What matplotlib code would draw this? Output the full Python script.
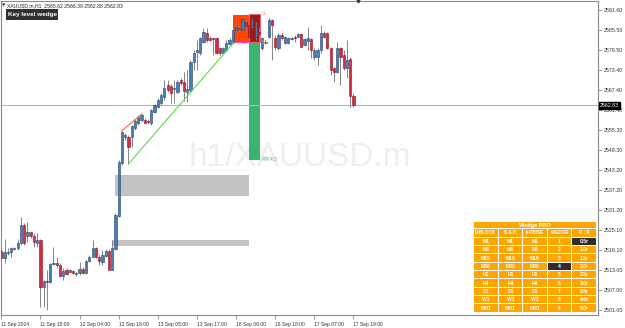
import matplotlib
matplotlib.use("Agg")
import matplotlib.pyplot as plt
from matplotlib.patches import Rectangle
import matplotlib.transforms as mtransforms

# ---------------- data ----------------
opens = [
    2518.9, 2516.6, 2518.3, 2518.6, 2519.3, 2519.6, 2521.1, 2526.7, 2523.2, 2524.5,
    2523.4, 2521.3, 2522.1, 2508.0, 2509.8, 2509.6, 2514.9, 2515.1, 2514.6, 2511.3,
    2513.1, 2512.6, 2512.9, 2511.9, 2512.3, 2513.3, 2512.1, 2515.9, 2517.1, 2519.6,
    2517.1, 2515.6, 2517.3, 2518.9, 2513.1, 2519.3, 2529.4, 2545.4, 2553.2, 2553.2,
    2553.2, 2556.0, 2557.5, 2558.4, 2558.4, 2558.1, 2557.5, 2560.8, 2562.3, 2563.5,
    2565.3, 2568.9, 2568.6, 2567.7, 2566.8, 2570.5, 2569.9, 2566.8, 2567.4, 2575.9,
    2578.9, 2578.6, 2581.9, 2584.7, 2583.1, 2583.1, 2583.1, 2580.1, 2578.6, 2579.5,
    2581.3, 2581.9, 2585.6, 2585.9, 2585.6, 2588.0, 2587.1, 2587.1, 2583.4, 2585.0,
    2580.1, 2581.6, 2583.4, 2588.6, 2583.1, 2580.1, 2584.0, 2581.6, 2581.6, 2582.8,
    2583.4, 2583.4, 2584.4, 2581.0, 2582.2, 2582.8, 2577.4, 2577.4, 2579.5, 2584.7,
    2584.7, 2580.1, 2574.1, 2572.9, 2580.1, 2578.0, 2574.1, 2576.8, 2565.62]
highs = [
    2519.1, 2522.3, 2519.6, 2520.1, 2519.9, 2522.3, 2529.2, 2527.4, 2527.7, 2524.6,
    2524.2, 2524.2, 2522.3, 2510.1, 2513.1, 2515.1, 2520.1, 2517.1, 2515.1, 2513.6,
    2513.6, 2513.4, 2513.1, 2512.6, 2515.6, 2514.1, 2516.1, 2517.6, 2522.1, 2519.9,
    2517.6, 2519.1, 2519.3, 2519.3, 2522.1, 2530.3, 2546.3, 2555.1, 2554.5, 2553.8,
    2556.9, 2558.7, 2559.9, 2560.2, 2559.0, 2558.7, 2561.7, 2563.2, 2565.0, 2566.5,
    2570.5, 2570.5, 2569.3, 2570.5, 2570.5, 2571.1, 2572.9, 2573.5, 2576.5, 2579.5,
    2582.5, 2583.4, 2586.2, 2586.2, 2583.7, 2583.4, 2583.4, 2580.4, 2580.4, 2582.5,
    2583.1, 2586.2, 2587.7, 2587.1, 2589.8, 2588.6, 2589.5, 2589.2, 2588.0, 2586.2,
    2583.4, 2582.5, 2589.2, 2588.9, 2584.0, 2584.7, 2584.7, 2583.7, 2583.4, 2583.4,
    2584.0, 2584.7, 2584.7, 2583.1, 2586.5, 2583.1, 2580.1, 2580.1, 2587.1, 2585.3,
    2585.0, 2580.4, 2574.4, 2581.9, 2580.4, 2579.5, 2582.5, 2577.4, 2566.39]
lows = [
    2516.3, 2515.1, 2517.6, 2517.1, 2519.1, 2519.1, 2520.6, 2520.6, 2521.6, 2522.7,
    2520.1, 2520.1, 2502.0, 2502.0, 2501.0, 2509.1, 2514.6, 2513.6, 2511.1, 2510.1,
    2511.6, 2512.2, 2511.9, 2511.3, 2511.6, 2511.9, 2511.9, 2515.6, 2516.9, 2516.7,
    2514.6, 2514.6, 2517.1, 2513.1, 2513.1, 2519.1, 2529.1, 2544.8, 2552.3, 2545.1,
    2550.2, 2555.4, 2556.9, 2557.8, 2557.2, 2557.2, 2556.9, 2560.5, 2562.0, 2562.9,
    2564.4, 2566.8, 2563.5, 2563.5, 2566.5, 2568.9, 2564.1, 2563.8, 2566.8, 2573.5,
    2573.5, 2578.0, 2581.6, 2581.9, 2582.2, 2578.0, 2578.3, 2578.0, 2578.3, 2578.9,
    2581.0, 2581.3, 2585.0, 2585.3, 2585.0, 2586.2, 2579.5, 2586.2, 2582.5, 2575.6,
    2579.5, 2581.3, 2583.1, 2576.5, 2579.5, 2579.5, 2582.5, 2581.3, 2581.3, 2582.5,
    2581.9, 2583.4, 2580.4, 2580.7, 2579.5, 2577.1, 2576.5, 2575.0, 2578.6, 2583.1,
    2579.8, 2572.0, 2569.9, 2572.6, 2568.9, 2573.5, 2571.1, 2562.3, 2562.4]
closes = [
    2516.6, 2518.6, 2518.6, 2519.6, 2519.6, 2521.3, 2526.7, 2521.3, 2524.5, 2523.2,
    2521.6, 2522.1, 2508.0, 2509.8, 2509.5, 2514.9, 2515.1, 2514.6, 2511.3, 2512.9,
    2511.9, 2513.1, 2512.1, 2512.3, 2513.3, 2512.1, 2515.9, 2517.1, 2519.6, 2516.9,
    2515.9, 2517.6, 2518.9, 2513.1, 2519.6, 2529.7, 2545.7, 2554.8, 2553.8, 2550.2,
    2556.6, 2558.1, 2559.3, 2559.9, 2557.5, 2557.8, 2561.4, 2562.9, 2564.4, 2565.9,
    2568.0, 2567.4, 2566.5, 2568.0, 2569.9, 2569.6, 2567.1, 2567.7, 2575.9, 2578.6,
    2579.5, 2583.1, 2585.0, 2582.5, 2582.5, 2582.8, 2578.6, 2578.6, 2580.1, 2581.6,
    2582.5, 2585.6, 2586.5, 2586.2, 2588.9, 2586.8, 2583.4, 2588.6, 2587.1, 2584.4,
    2583.1, 2581.9, 2588.6, 2587.1, 2580.4, 2584.0, 2583.1, 2583.4, 2583.1, 2583.1,
    2583.1, 2584.4, 2580.4, 2582.8, 2583.1, 2579.5, 2579.5, 2579.5, 2584.7, 2583.4,
    2580.1, 2573.5, 2572.9, 2580.1, 2577.4, 2574.1, 2576.5, 2565.6, 2562.83]

time_tick_bars = [0, 12, 24, 36, 48, 60, 72, 84, 96, 108]
time_tick_labels = ["11 Sep 2024", "11 Sep 15:00", "12 Sep 04:00", "12 Sep 16:00",
                    "13 Sep 05:00", "13 Sep 17:00", "16 Sep 06:00", "16 Sep 18:00",
                    "17 Sep 07:00", "17 Sep 19:00"]
price_ticks = [2591.60, 2585.50, 2579.50, 2573.40, 2567.40, 2561.40, 2555.30, 2549.30,
               2543.20, 2537.20, 2531.20, 2525.10, 2519.10, 2513.00, 2507.00, 2501.00]
last_price = 2562.83
header_text = "XAUUSD.m,H1  2565.62 2566.39 2562.88 2562.83"

# zones: (start bar, end bar, low, high)
gray_zones = [(34.9, 76.0, 2535.4, 2541.8), (33.9, 76.0, 2520.3, 2522.1)]
wedge_box = (71.1, 76.0, 2581.9, 2590.1)
sl_box = (76.0, 79.4, 2581.9, 2590.4)
tp_box = (76.0, 79.3, 2546.4, 2581.9)
upper_line_x = [36.9, 43.1]
upper_line_y = [2555.1, 2560.2]
lower_line_x = [39.0, 71.2]
lower_line_y = [2545.1, 2581.7]

table_title = "Wedge PRO"
table_header = ["D-BLOCK", "S & D", "I+OB/SE", "WEDGE", "R : R"]
table_tf = ["M1", "M5", "M15", "M30", "H1", "H4", "D1", "W1", "MN1"]
table_wedge = ["1", "2", "3", "4", "5", "6", "7", "8", "9"]
table_rr = ["0.5r", "1.0r", "1.5r", "2.0r", "2.5r", "3.0r", "3.5r", "4.0r", "5.0r"]

# ---------------- figure ----------------
FONT = ["Liberation Sans", "DejaVu Sans"]
W, H = 625, 328
fig = plt.figure(figsize=(W / 100, H / 100), dpi=100)
fig.patch.set_facecolor("white")
ax = fig.add_axes([1 / W, 13 / H, 597 / W, 314 / H])
ax.set_facecolor("white")
ax.set_xlim(-0.1, 183.0)
ax.set_ylim(2499.49, 2594.32)

# watermark
ax.text(0.5, 0.5, "h1/XAUUSD.m", transform=ax.transAxes, ha="center", va="center",
        fontsize=24, color="#efefef", family=FONT, zorder=0)

# zones
for (x0, x1, lo, hi) in gray_zones:
    ax.add_patch(Rectangle((x0, lo), x1 - x0, hi - lo, facecolor="#c3c3c3",
                           edgecolor="none", zorder=1))
x0, x1, lo, hi = wedge_box
ax.add_patch(Rectangle((x0, lo), x1 - x0, hi - lo, facecolor="#ff4500", edgecolor="none", zorder=1))
ax.plot([x0, x1], [lo, lo], color="#ff44c8", lw=1.0, zorder=2)
x0, x1, lo, hi = tp_box
ax.add_patch(Rectangle((x0, lo), x1 - x0, hi - lo, facecolor="#3cb371", edgecolor="none", zorder=1))
x0, x1, lo, hi = sl_box
ax.add_patch(Rectangle((x0, lo), x1 - x0, hi - lo, facecolor="#9e1a1a", edgecolor="#e26a6a",
                       lw=0.8, zorder=1))

ax.axhline(last_price, color="#aab8c0", lw=0.8, zorder=2)

# candles
idx = list(range(len(opens)))
ax.vlines(idx, lows, highs, colors="#858585", lw=0.7, zorder=3)
bull = [c >= o for o, c in zip(opens, closes)]
bottoms = [min(o, c) for o, c in zip(opens, closes)]
heights = [max(abs(c - o), 0.3) for o, c in zip(opens, closes)]
fc = ["#4a7db5" if b else "#d42a45" for b in bull]
ec = ["#22466e" if b else "#8c1020" for b in bull]
ax.bar(idx, heights, bottom=bottoms, width=0.68, color=fc, edgecolor=ec, linewidth=0.4, zorder=4)

# wedge lines
ax.plot(upper_line_x, upper_line_y, color="#ff6a30", lw=0.8, zorder=5)
ax.plot(lower_line_x, lower_line_y, color="#55dd44", lw=0.8, zorder=5)

# labels on trade boxes
ax.text(sl_box[1] + 0.5, sl_box[3], "SL", fontsize=3.4, color="#f2b06a",
        ha="left", va="center", family=FONT, zorder=6)
ax.text(sl_box[1] + 0.5, sl_box[2], "SL", fontsize=3.4, color="#f2b06a",
        ha="left", va="center", family=FONT, zorder=6)
ax.text(tp_box[1] + 0.5, tp_box[2], "RR 4.5", fontsize=3.4, color="#4cc27a",
        ha="left", va="center", family=FONT, zorder=6)

# axes styling
for s in ax.spines.values():
    s.set_color("#8a8a8a")
    s.set_linewidth(0.8)
ax.yaxis.tick_right()
ax.set_yticks(price_ticks)
ax.set_yticklabels([f"{p:.2f}" for p in price_ticks])
ax.tick_params(axis="y", length=3, width=0.5, color="#777777", pad=1.2,
               labelsize=3.8, labelcolor="#333333")
ax.set_xticks(time_tick_bars)
ax.set_xticklabels(time_tick_labels)
ax.tick_params(axis="x", length=3, width=0.5, color="#777777", pad=2,
               labelsize=3.6, labelcolor="#333333")
for lbl in ax.get_yticklabels() + ax.get_xticklabels():
    lbl.set_family(FONT)
for lbl in ax.get_xticklabels():
    lbl.set_ha("left")

# last price tag
trans = mtransforms.blended_transform_factory(ax.transAxes, ax.transData)
ax.text(1.003, last_price, f"{last_price:.2f}", transform=trans, ha="left", va="center",
        fontsize=3.8, color="white", family=FONT, zorder=10, clip_on=False,
        bbox=dict(boxstyle="square,pad=0.2", facecolor="black", edgecolor="black"))

# ---------------- overlay (pixel coordinates) ----------------
ov = fig.add_axes([0, 0, 1, 1], zorder=10)
ov.set_xlim(0, W)
ov.set_ylim(H, 0)
ov.axis("off")
ov.patch.set_alpha(0)

ov.text(2, 5.5, "▼", fontsize=3.2, color="#333333", ha="left", va="center", family="DejaVu Sans")
ov.text(7, 5.5, header_text, fontsize=3.7, color="#222222", ha="left", va="center", family=FONT)
ov.add_patch(Rectangle((6, 9.3), 52, 10.7, facecolor="#303030", edgecolor="none"))
ov.text(32, 14.8, "Key level wedge", fontsize=4.6, color="white", fontweight="bold",
        ha="center", va="center", family=FONT)
ov.plot([358.3], [1.2], marker="v", markersize=2.0, color="#2a3a5a", clip_on=False)

# table
TX, TY = 474, 221.5
CW, CP = 23.6, 24.6
ORANGE = "#ffa500"
ov.add_patch(Rectangle((TX, TY), 4 * CP + CW, 6.8, facecolor=ORANGE, edgecolor="none"))
ov.text(TX + (4 * CP + CW) / 2, TY + 3.5, table_title, fontsize=4.0, color="white",
        fontweight="bold", ha="center", va="center", family=FONT)
for c, htxt in enumerate(table_header):
    ov.add_patch(Rectangle((TX + c * CP, TY + 7.5), CW, 7.6, facecolor=ORANGE, edgecolor="none"))
    ov.text(TX + c * CP + CW / 2, TY + 11.4, htxt, fontsize=3.3, color="white",
            fontweight="bold", ha="center", va="center", family=FONT)
for r in range(len(table_tf)):
    y0 = TY + 16.2 + r * 8.33
    row = [table_tf[r], table_tf[r], table_tf[r], table_wedge[r], table_rr[r]]
    for c, txt in enumerate(row):
        dark = (r == 0 and c == 4) or (r == 3 and c == 3)
        ov.add_patch(Rectangle((TX + c * CP, y0), CW, 7.3,
                               facecolor="#2e2e2e" if dark else ORANGE, edgecolor="none"))
        ov.text(TX + c * CP + CW / 2, y0 + 3.8, txt, fontsize=3.6, color="white",
                fontweight="bold", ha="center", va="center", family=FONT)

fig.savefig("out.png", dpi=100, facecolor="white")
